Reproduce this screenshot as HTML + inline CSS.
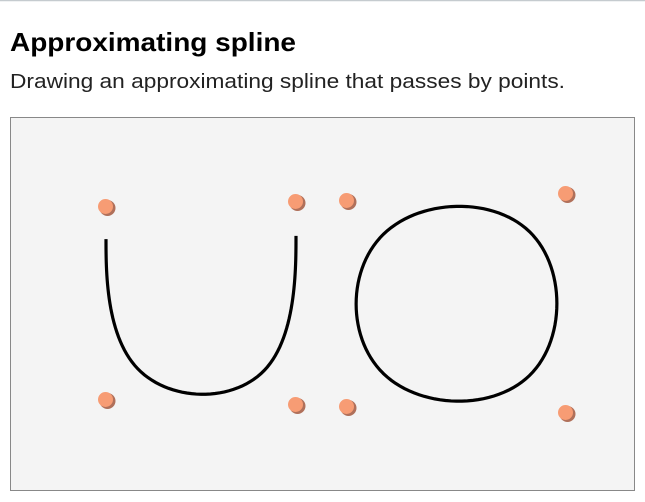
<!DOCTYPE html>
<html><head><meta charset="utf-8"><style>
html,body{margin:0;padding:0;background:#fff;width:645px;height:502px;overflow:hidden}
svg{display:block}
</style></head><body>
<svg width="645" height="502" xmlns="http://www.w3.org/2000/svg">
<line x1="0" y1="0.5" x2="645" y2="0.5" stroke="#c5cbcf" stroke-width="1.5"/>
<text x="10" y="51" font-family="Liberation Sans, sans-serif" font-weight="bold" font-size="26" fill="#000" textLength="286" lengthAdjust="spacingAndGlyphs">Approximating spline</text>
<text x="10" y="88" font-family="Liberation Sans, sans-serif" font-size="20" fill="#222" textLength="555" lengthAdjust="spacingAndGlyphs">Drawing an approximating spline that passes by points.</text>
<rect x="10.5" y="117.5" width="624" height="373" fill="#f4f4f4" stroke="#888" stroke-width="1"/>
<g id="curves"></g>
<g id="pts"></g>
</svg>
<script>
const openX = [106, 106, 296, 296];
const openY = [207, 400, 405, 202];
const closedX = [347, 566, 566, 347];
const closedY = [201, 194, 413, 407];
const NS = "http://www.w3.org/2000/svg";
function bs(p0,p1,p2,p3,t){
  const a=(1-t)**3/6, b=(3*t**3-6*t*t+4)/6, c=(-3*t**3+3*t*t+3*t+1)/6, d=t**3/6;
  return a*p0+b*p1+c*p2+d*p3;
}
function splinePath(xs,ys,closed){
  let X,Y;
  if(closed){X=xs.concat(xs.slice(0,3));Y=ys.concat(ys.slice(0,3));}
  else{X=[xs[0]].concat(xs,[xs[xs.length-1]]);Y=[ys[0]].concat(ys,[ys[ys.length-1]]);}
  let d="";
  for(let i=0;i+3<X.length;i++){
    for(let k=0;k<=30;k++){
      const t=k/30;
      const x=bs(X[i],X[i+1],X[i+2],X[i+3],t), y=bs(Y[i],Y[i+1],Y[i+2],Y[i+3],t);
      d+=(d?"L":"M")+x.toFixed(2)+","+y.toFixed(2);
    }
  }
  return d+(closed?"Z":"");
}
const cg=document.getElementById('curves');
[[openX,openY,false,'open-spline'],[closedX,closedY,true,'closed-spline']].forEach(s=>{
  const p=document.createElementNS(NS,'path');
  p.setAttribute('d',splinePath(s[0],s[1],s[2]));
  p.setAttribute('fill','none');p.setAttribute('stroke','#000');p.setAttribute('stroke-width','3.2');
  
  
  cg.appendChild(p);
});
const pg=document.getElementById('pts');
openX.concat(closedX).forEach((x,i)=>{
  const y=openY.concat(closedY)[i];
  const sh=document.createElementNS(NS,'circle');
  sh.setAttribute('cx',x+1.5);sh.setAttribute('cy',y+1);sh.setAttribute('r',8);sh.setAttribute('fill','#b0705a');
  
  
  pg.appendChild(sh);
  const c=document.createElementNS(NS,'circle');
  c.setAttribute('cx',x-0.5);c.setAttribute('cy',y-0.5);c.setAttribute('r',7.5);c.setAttribute('fill','#f79c74');
  
  
  pg.appendChild(c);
});
</script>
</body></html>
